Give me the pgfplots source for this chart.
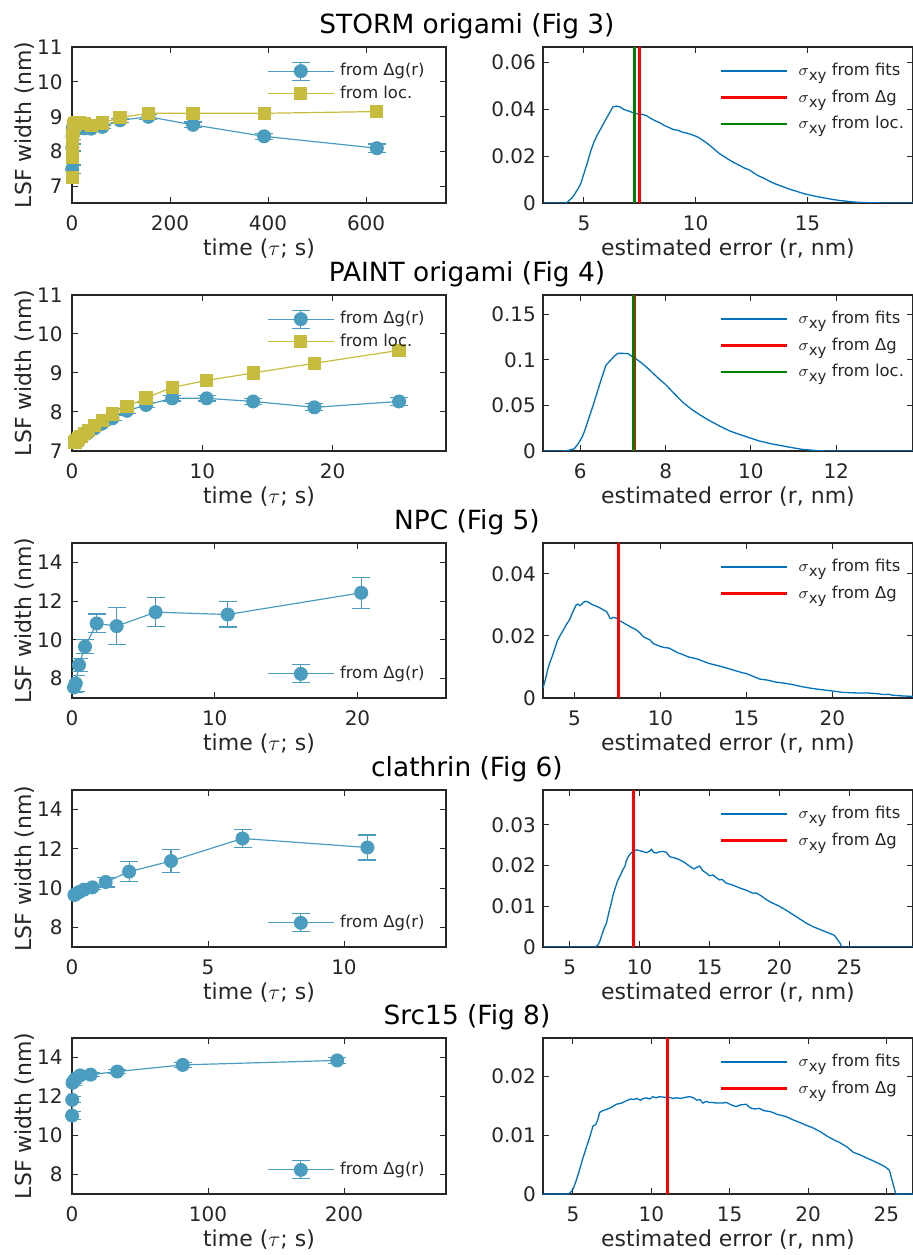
\documentclass[border=0pt]{standalone}
\usepackage{fontspec}
\setmainfont{DejaVu Sans}
\usepackage{pgfplots}
\pgfplotsset{compat=1.18}
\definecolor{axgray}{RGB}{38,38,38}
\definecolor{mblue}{RGB}{75,157,192}
\definecolor{myellow}{RGB}{200,188,62}
\definecolor{hblue}{RGB}{0,114,189}
\definecolor{mred}{RGB}{255,0,0}
\definecolor{mgreen}{RGB}{0,128,0}
\newcommand{\sxy}{$\sigma$\raisebox{-0.55ex}{\fontsize{7.5}{7.5}\selectfont xy}}
\pgfplotsset{
  base/.style={
    scale only axis,
    axis line style={axgray, line width=0.6pt},
    every tick/.style={axgray, line width=0.5pt},
    tick align=inside,
    major tick length=3pt,
    xticklabel style={font=\fontsize{10}{10}\selectfont, text=axgray, yshift=-3pt},
    yticklabel style={font=\fontsize{10}{10}\selectfont, text=axgray},
    label style={font=\fontsize{11}{11}\selectfont, text=axgray},
    xlabel style={at={(axis description cs:0.5,0)}, anchor=center, yshift=-23pt},
    /pgf/number format/assume math mode=true,
    scaled ticks=false,
    legend cell align=left,
    legend style={draw=none, fill=none, font=\fontsize{8.2}{8.2}\selectfont, text=axgray},
  },
  leftax/.style={base, width=187pt, ylabel={LSF width (nm)}, xlabel={time ($\tau$; s)},
    ylabel style={at={(axis description cs:-0.128,0.5)}, anchor=center},
    yticklabel style={xshift=-1.2pt},
    legend style={row sep=-0.5pt, /tikz/every odd column/.append style={column sep=0.8pt}},
    legend image code/.code={\draw[mark repeat=2,mark phase=2,##1] plot coordinates {(0pt,0pt) (16.5pt,0pt) (33pt,0pt)};}},
  rightax/.style={base, width=185pt, xlabel={estimated error (r, nm)},
    legend style={at={(axis description cs:0.4825,1)}, anchor=north west, xshift=-4pt, yshift=-4pt, row sep=1.5pt,
      /tikz/every odd column/.append style={column sep=3pt}},
    legend image code/.code={\draw[##1] (0pt,0pt) -- (33pt,0pt);}},
  legtop/.style={legend style={at={(axis description cs:0.521,1)}, anchor=north west, xshift=-3pt, yshift=-4pt}},
  legbot/.style={legend style={at={(axis description cs:0.521,0)}, anchor=south west, xshift=-3pt, yshift=4pt}},
  errleg/.style={legend image code/.code={
     \draw[mblue, line width=0.6pt] (16.5pt,-4.5pt) -- (16.5pt,4.5pt) (12pt,-4.5pt) -- (21pt,-4.5pt) (12pt,4.5pt) -- (21pt,4.5pt);
     \draw[mark repeat=2,mark phase=2,##1] plot coordinates {(0pt,0pt) (16.5pt,0pt) (33pt,0pt)};}},
  bluepl/.style={mblue, line width=0.6pt, mark=*, mark size=3.2pt, mark options={solid, fill=mblue, draw=mblue},
     error bars/.cd, y dir=both, y explicit, error bar style={line width=0.6pt, mblue}, error mark options={rotate=90, mark size=4.5pt, line width=0.6pt, mblue}},
  yelpl/.style={myellow, line width=0.6pt, mark=square*, mark size=3pt, mark options={solid, fill=myellow, draw=myellow}},
  histpl/.style={hblue, line width=0.65pt},
  redpl/.style={mred, line width=1.3pt},
  greenpl/.style={mgreen, line width=1.3pt},
}
\begin{document}
\begin{tikzpicture}
\useasboundingbox (0pt,0pt) rectangle (456.5pt,627.5pt);
\tikzset{ttl/.style={font=\fontsize{13.2}{13.2}\selectfont, anchor=base, text=black}}
\node[ttl] at (233.5pt,610.5pt) {STORM origami (Fig 3)};
\node[ttl] at (233.5pt,486.5pt) {PAINT origami (Fig 4)};
\node[ttl] at (233.5pt,362.5pt) {NPC (Fig 5)};
\node[ttl] at (233.5pt,239pt) {clathrin (Fig 6)};
\node[ttl] at (233.5pt,115pt) {Src15 (Fig 8)};

% ===== Row 1 left =====
\begin{axis}[leftax, legtop, at={(36pt,526pt)}, anchor=south west, height=78pt,
  xmin=0, xmax=763, ymin=6.53, ymax=11, xtick={0,200,400,600}, ytick={7,8,9,10,11}]
\addplot[errleg, bluepl] coordinates {
(0.39,7.50) +- (0,0.12) (0.62,8.12) +- (0,0.1) (0.98,8.45) +- (0,0.1) (1.55,8.62) +- (0,0.1)
(2.46,8.72) +- (0,0.08) (3.9,8.78) +- (0,0.08) (6.2,8.76) +- (0,0.06) (9.8,8.72) +- (0,0.05)
(15.5,8.68) +- (0,0.05) (24.6,8.67) +- (0,0.05) (39,8.66) +- (0,0.05) (62,8.71) +- (0,0.05)
(98,8.90) +- (0,0.06) (156,9.00) +- (0,0.07) (247,8.77) +- (0,0.08) (392,8.44) +- (0,0.09)
(622,8.10) +- (0,0.12)};
\addlegendentry{from Δg(r)}
\addplot[yelpl] coordinates {
(0.39,7.25) (0.62,7.85) (0.98,8.2) (1.55,8.45) (2.46,8.62) (3.9,8.74) (6.2,8.8) (9.8,8.82)
(15.5,8.83) (24.6,8.8) (39,8.75) (62,8.82) (98,8.98) (156,9.1) (247,9.1) (392,9.1) (622,9.15)};
\addlegendentry{from loc.}
\end{axis}

% ===== Row 1 right =====
\begin{axis}[rightax, at={(271.5pt,526pt)}, anchor=south west, height=78pt,
  xmin=3.17, xmax=19.72, ymin=0, ymax=0.0665, xtick={5,10,15}, ytick={0,0.02,0.04,0.06},
  yticklabels={0,0.02,0.04,0.06}]
\addplot[histpl] coordinates {
(3.17,0) (4.1,0) (4.25,0.0003) (4.5,0.0025) (4.7,0.0055) (4.85,0.008) (5.0,0.0125) (5.15,0.017)
(5.3,0.022) (5.45,0.026) (5.6,0.029) (5.8,0.0325) (6.0,0.036) (6.15,0.0385) (6.3,0.041) (6.45,0.0413)
(6.6,0.041) (6.8,0.0398) (7.0,0.0392) (7.2,0.0385) (7.4,0.038) (7.6,0.0378) (7.8,0.0372) (8.0,0.036)
(8.2,0.035) (8.4,0.0342) (8.6,0.033) (8.8,0.0322) (9.0,0.0313) (9.2,0.031) (9.4,0.0302) (9.6,0.0298)
(9.8,0.0292) (10.0,0.0285) (10.2,0.0275) (10.4,0.0262) (10.6,0.0248) (10.8,0.0232) (11.0,0.0215)
(11.2,0.0202) (11.4,0.019) (11.6,0.0178) (11.8,0.0168) (12.0,0.0158) (12.2,0.0148) (12.4,0.0141)
(12.6,0.0128) (12.8,0.0116) (13.0,0.0108) (13.2,0.0098) (13.4,0.0088) (13.6,0.008) (13.8,0.0073)
(14.0,0.0066) (14.2,0.0059) (14.4,0.0053) (14.6,0.0047) (14.8,0.0041) (15.0,0.0036) (15.3,0.003)
(15.6,0.0024) (15.9,0.0019) (16.2,0.0014) (16.5,0.001) (16.8,0.0007) (17.1,0.0004) (17.5,0.0002)
(18.0,0.0001) (18.5,0) (19.72,0)};
\addlegendentry{\sxy{} from fits}
\addplot[redpl] coordinates {(7.49,0) (7.49,0.0665)};
\addlegendentry{\sxy{} from Δg}
\addplot[greenpl] coordinates {(7.26,0) (7.26,0.0665)};
\addlegendentry{\sxy{} from loc.}
\end{axis}

% ===== Row 2 left =====
\begin{axis}[leftax, legtop, at={(36pt,402pt)}, anchor=south west, height=78pt,
  xmin=0, xmax=28.7, ymin=7, ymax=11, xtick={0,10,20}, ytick={7,8,9,10,11}]
\addplot[errleg, bluepl] coordinates {
(0.21,7.23) +- (0,0.05) (0.28,7.24) +- (0,0.05) (0.38,7.27) +- (0,0.05) (0.51,7.30) +- (0,0.05)
(0.69,7.35) +- (0,0.05) (0.93,7.41) +- (0,0.05) (1.26,7.48) +- (0,0.05) (1.72,7.58) +- (0,0.05)
(2.34,7.71) +- (0,0.05) (3.11,7.84) +- (0,0.06) (4.22,8.03) +- (0,0.06) (5.68,8.18) +- (0,0.06)
(7.69,8.35) +- (0,0.07) (10.33,8.35) +- (0,0.07) (13.9,8.27) +- (0,0.08) (18.6,8.12) +- (0,0.09)
(25.1,8.27) +- (0,0.1)};
\addlegendentry{from Δg(r)}
\addplot[yelpl] coordinates {
(0.21,7.21) (0.28,7.23) (0.38,7.27) (0.51,7.32) (0.69,7.38) (0.93,7.45) (1.26,7.53) (1.72,7.65)
(2.34,7.79) (3.11,7.95) (4.22,8.14) (5.68,8.36) (7.69,8.63) (10.33,8.81) (13.9,9.0) (18.6,9.25) (25.1,9.58)};
\addlegendentry{from loc.}
\end{axis}

% ===== Row 2 right =====
\begin{axis}[rightax, at={(271.5pt,402pt)}, anchor=south west, height=78pt,
  xmin=5.125, xmax=13.8, ymin=0, ymax=0.171, xtick={6,8,10,12}, ytick={0,0.05,0.1,0.15},
  yticklabels={0,0.05,0.1,0.15}]
\addplot[histpl] coordinates {
(5.125,0) (5.6,0) (5.75,0.001) (5.86,0.0025) (5.95,0.008) (6.05,0.016) (6.1,0.022) (6.2,0.036)
(6.3,0.05) (6.4,0.065) (6.5,0.08) (6.6,0.094) (6.7,0.099) (6.8,0.104) (6.88,0.107) (7.0,0.107)
(7.12,0.1067) (7.2,0.104) (7.31,0.1008) (7.45,0.096) (7.62,0.089) (7.8,0.081) (8.0,0.0728)
(8.2,0.063) (8.4,0.0535) (8.6,0.046) (8.79,0.040) (9.0,0.034) (9.27,0.0273) (9.5,0.022)
(9.73,0.0182) (10.0,0.014) (10.2,0.0109) (10.45,0.0082) (10.67,0.0062) (10.9,0.0042) (11.2,0.0018)
(11.5,0.0006) (11.7,0.0001) (11.8,0) (13.8,0)};
\addlegendentry{\sxy{} from fits}
\addplot[redpl] coordinates {(7.28,0) (7.28,0.171)};
\addlegendentry{\sxy{} from Δg}
\addplot[greenpl] coordinates {(7.25,0) (7.25,0.171)};
\addlegendentry{\sxy{} from loc.}
\end{axis}

% ===== Row 3 left =====
\begin{axis}[leftax, legbot, at={(36pt,278.5pt)}, anchor=south west, height=77.5pt,
  xmin=0, xmax=26.2, ymin=7, ymax=15, xtick={0,10,20}, ytick={8,10,12,14}]
\addplot[errleg, bluepl] coordinates {
(0.14,7.55) +- (0,0.25) (0.26,7.75) +- (0,0.42) (0.49,8.70) +- (0,0.33) (0.91,9.65) +- (0,0.37)
(1.73,10.85) +- (0,0.48) (3.13,10.71) +- (0,0.95) (5.86,11.43) +- (0,0.74) (10.91,11.31) +- (0,0.65)
(20.26,12.43) +- (0,0.8)};
\addlegendentry{from Δg(r)}
\end{axis}

% ===== Row 3 right =====
\begin{axis}[rightax, at={(271.5pt,278.5pt)}, anchor=south west, height=77.5pt,
  xmin=3.16, xmax=24.7, ymin=0, ymax=0.05, xtick={5,10,15,20}, ytick={0,0.02,0.04},
  yticklabels={0,0.02,0.04}]
\addplot[histpl] coordinates {
(3.16,0.0032) (3.3,0.006) (3.45,0.0095) (3.55,0.0113) (3.7,0.0135) (3.85,0.016) (4.0,0.0185)
(4.13,0.0199) (4.3,0.0215) (4.5,0.0235) (4.71,0.0253) (4.85,0.0272) (5.0,0.029) (5.1,0.0301)
(5.2,0.0303) (5.3,0.0298) (5.39,0.0301) (5.5,0.0308) (5.6,0.0311) (5.68,0.0312) (5.8,0.0309)
(6.0,0.0302) (6.26,0.0296) (6.5,0.029) (6.7,0.0283) (6.84,0.028) (6.95,0.027) (7.05,0.0258)
(7.13,0.0256) (7.25,0.026) (7.43,0.0258) (7.6,0.025) (7.8,0.0244) (8.01,0.0237) (8.3,0.0228)
(8.59,0.022) (8.8,0.021) (9.0,0.0198) (9.2,0.0192) (9.37,0.0188) (9.6,0.0175) (9.95,0.0167)
(10.2,0.0163) (10.5,0.0161) (10.8,0.0152) (11.0,0.0146) (11.3,0.014) (11.6,0.0133) (11.9,0.0129)
(12.2,0.0125) (12.5,0.0118) (12.86,0.0111) (13.3,0.0105) (13.83,0.0097) (14.3,0.0089) (14.8,0.0081)
(15.0,0.0079) (15.3,0.0072) (15.78,0.0061) (16.2,0.0058) (16.75,0.0051) (17.2,0.0048) (17.7,0.0043)
(18.2,0.0037) (18.7,0.0032) (19.2,0.0028) (19.65,0.0025) (20.1,0.0022) (20.6,0.0018) (21.1,0.0017)
(21.6,0.0016) (22.1,0.0016) (22.6,0.0014) (23.0,0.0011) (23.3,0.0012) (23.5,0.0009) (24.0,0.0007)
(24.7,0.0005)};
\addlegendentry{\sxy{} from fits}
\addplot[redpl] coordinates {(7.57,0) (7.57,0.05)};
\addlegendentry{\sxy{} from Δg}
\end{axis}

% ===== Row 4 left =====
\begin{axis}[leftax, legbot, at={(36pt,154pt)}, anchor=south west, height=78.5pt,
  xmin=0, xmax=13.75, ymin=7, ymax=15, xtick={0,5,10}, ytick={8,10,12,14}]
\addplot[errleg, bluepl] coordinates {
(0.09,9.65) +- (0,0.1) (0.15,9.70) +- (0,0.1) (0.26,9.80) +- (0,0.1) (0.44,9.92) +- (0,0.12)
(0.75,10.04) +- (0,0.13) (1.24,10.31) +- (0,0.25) (2.10,10.84) +- (0,0.52) (3.64,11.38) +- (0,0.59)
(6.27,12.53) +- (0,0.47) (10.86,12.07) +- (0,0.64)};
\addlegendentry{from Δg(r)}
\end{axis}

% ===== Row 4 right =====
\begin{axis}[rightax, at={(271.5pt,154pt)}, anchor=south west, height=78.5pt,
  xmin=3.09, xmax=29.55, ymin=0, ymax=0.0386, xtick={5,10,15,20,25}, ytick={0,0.01,0.02,0.03},
  yticklabels={0,0.01,0.02,0.03}]
\addplot[histpl] coordinates {
(3.09,0) (6.8,0) (7.0,0.0004) (7.15,0.0014) (7.3,0.003) (7.45,0.0045) (7.63,0.0059) (7.8,0.0085)
(7.95,0.0105) (8.1,0.0128) (8.3,0.015) (8.45,0.0165) (8.58,0.0173) (8.7,0.0182) (8.8,0.019)
(8.94,0.0198) (9.05,0.0212) (9.18,0.0222) (9.35,0.023) (9.53,0.0235) (9.77,0.0239) (10.0,0.0237)
(10.2,0.0235) (10.49,0.0232) (10.7,0.0235) (10.85,0.024) (11.0,0.0233) (11.2,0.0231) (11.4,0.0234)
(11.68,0.0235) (11.9,0.0233) (12.16,0.0222) (12.5,0.0219) (12.88,0.0214) (13.2,0.0208) (13.6,0.0198)
(13.9,0.0192) (14.1,0.0196) (14.3,0.0199) (14.5,0.0188) (14.8,0.0181) (15.0,0.0175) (15.26,0.0177)
(15.5,0.017) (15.7,0.0165) (15.9,0.0166) (16.2,0.0157) (16.6,0.0153) (17.17,0.0145) (17.6,0.014)
(18.1,0.0132) (18.3,0.0133) (18.6,0.0128) (19.08,0.0116) (19.5,0.0108) (20.0,0.01) (20.5,0.009)
(21.0,0.0079) (21.5,0.0068) (21.9,0.0059) (22.4,0.005) (22.9,0.0043) (23.4,0.0036) (23.85,0.003)
(24.0,0.0026) (24.15,0.0018) (24.33,0.001) (24.45,0) (29.55,0)};
\addlegendentry{\sxy{} from fits}
\addplot[redpl] coordinates {(9.58,0) (9.58,0.0386)};
\addlegendentry{\sxy{} from Δg}
\end{axis}

% ===== Row 5 left =====
\begin{axis}[leftax, legbot, at={(36pt,30.5pt)}, anchor=south west, height=78pt,
  xmin=0, xmax=275, ymin=7, ymax=15, xtick={0,100,200}, ytick={8,10,12,14}]
\addplot[errleg, bluepl] coordinates {
(0.07,11.02) +- (0,0.2) (0.17,11.83) +- (0,0.15) (0.42,12.70) +- (0,0.12) (1.0,12.77) +- (0,0.1)
(2.4,12.90) +- (0,0.1) (5.9,13.08) +- (0,0.1) (13.7,13.12) +- (0,0.1) (33.3,13.28) +- (0,0.1)
(81.4,13.62) +- (0,0.12) (195,13.85) +- (0,0.15)};
\addlegendentry{from Δg(r)}
\end{axis}

% ===== Row 5 right =====
\begin{axis}[rightax, at={(271.5pt,30.5pt)}, anchor=south west, height=78pt,
  xmin=3.09, xmax=26.7, ymin=0, ymax=0.0266, xtick={5,10,15,20,25}, ytick={0,0.01,0.02},
  yticklabels={0,0.01,0.02}]
\addplot[histpl] coordinates {
(3.09,0) (4.7,0) (4.85,0.0003) (5.0,0.0008) (5.2,0.0022) (5.43,0.0042) (5.6,0.0058) (5.85,0.0079)
(6.05,0.0095) (6.28,0.0116) (6.45,0.0118) (6.6,0.0128) (6.7,0.0139) (6.9,0.0142) (7.13,0.0144)
(7.4,0.0147) (7.77,0.0153) (8.1,0.0155) (8.4,0.0159) (8.7,0.0162) (8.9,0.0161) (9.04,0.0163)
(9.3,0.016) (9.5,0.0163) (9.68,0.0164) (9.9,0.0162) (10.1,0.0166) (10.3,0.0164) (10.53,0.0166)
(10.8,0.0165) (11.1,0.0165) (11.4,0.0163) (11.6,0.0164) (11.9,0.0163) (12.2,0.0165) (12.45,0.0166)
(12.7,0.0164) (12.9,0.016) (13.1,0.0161) (13.3,0.0155) (13.5,0.0158) (13.7,0.0156) (13.9,0.0156)
(14.2,0.0155) (14.5,0.0155) (14.8,0.0156) (15.1,0.0152) (15.4,0.0149) (15.7,0.0152) (16.06,0.0153)
(16.3,0.0147) (16.6,0.0145) (16.9,0.0146) (17.2,0.0142) (17.5,0.0141) (17.77,0.0139) (18.0,0.0136)
(18.3,0.0134) (18.6,0.0132) (19.0,0.0127) (19.47,0.0122) (19.9,0.0117) (20.3,0.0113) (20.8,0.0106)
(21.2,0.0099) (21.6,0.0093) (22.0,0.0088) (22.5,0.008) (22.9,0.0071) (23.3,0.0067) (23.7,0.0062)
(24.2,0.0056) (24.6,0.0051) (25.0,0.0045) (25.2,0.004) (25.4,0.002) (25.6,0) (26.7,0)};
\addlegendentry{\sxy{} from fits}
\addplot[redpl] coordinates {(11.04,0) (11.04,0.0266)};
\addlegendentry{\sxy{} from Δg}
\end{axis}
\end{tikzpicture}
\end{document}
